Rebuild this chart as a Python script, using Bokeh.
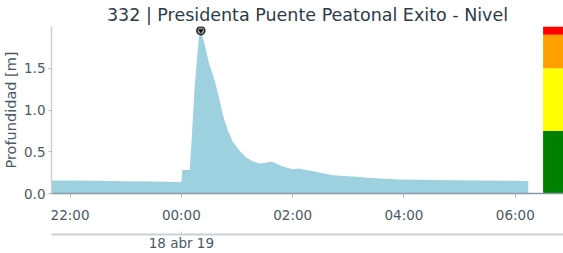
import pandas as pd
from bokeh.plotting import figure
from bokeh.models import (Range1d, FixedTicker, DatetimeTickFormatter, LinearAxis,
                          CustomJSTickFormatter)
from bokeh.embed import file_html
from bokeh.resources import INLINE

# ---- data ----
times = ["2019-04-17 21:40", "2019-04-17 22:00", "2019-04-17 22:30", "2019-04-17 23:00",
         "2019-04-17 23:30", "2019-04-17 23:55", "2019-04-18 00:00", "2019-04-18 00:01",
         "2019-04-18 00:09", "2019-04-18 00:10", "2019-04-18 00:11", "2019-04-18 00:14",
         "2019-04-18 00:17", "2019-04-18 00:19", "2019-04-18 00:21", "2019-04-18 00:25",
         "2019-04-18 00:30", "2019-04-18 00:36", "2019-04-18 00:41", "2019-04-18 00:45",
         "2019-04-18 00:50", "2019-04-18 00:55", "2019-04-18 01:03", "2019-04-18 01:10",
         "2019-04-18 01:17", "2019-04-18 01:24", "2019-04-18 01:30", "2019-04-18 01:35",
         "2019-04-18 01:40", "2019-04-18 01:45", "2019-04-18 01:50", "2019-04-18 02:00",
         "2019-04-18 02:06", "2019-04-18 02:25", "2019-04-18 02:43", "2019-04-18 03:09",
         "2019-04-18 03:20", "2019-04-18 03:55", "2019-04-18 04:57", "2019-04-18 06:14"]
nivel = [0.155, 0.155, 0.152, 0.148, 0.143, 0.137, 0.138, 0.28,
         0.28, 0.45, 0.62, 1.23, 1.63, 1.88, 1.95, 1.79,
         1.55, 1.35, 1.13, 0.93, 0.76, 0.63, 0.51, 0.43,
         0.385, 0.36, 0.365, 0.38, 0.37, 0.345, 0.32, 0.29,
         0.30, 0.26, 0.22, 0.20, 0.19, 0.167, 0.16, 0.15]

x_ticks = ["2019-04-17 22:00", "2019-04-18 00:00", "2019-04-18 02:00",
           "2019-04-18 04:00", "2019-04-18 06:00"]
date_tick = "2019-04-18 00:00"
date_label = "18 abr 19"

levels = [0.0, 0.75, 1.5, 1.9, 2.0]
level_colors = ["#008000", "#ffff00", "#ffa000", "#ff0000"]
bar_start = "2019-04-18 06:30"
x_start = "2019-04-17 21:40"
x_end = "2019-04-18 06:52"

title = "332 | Presidenta Puente Peatonal Exito - Nivel"
y_label = "Profundidad [m]"

# ---- plot ----
t = pd.to_datetime(times)
ms = lambda s: pd.Timestamp(s).value // 10**6

FONT = "DejaVu Sans"
TXT = "#4a5866"

p = figure(width=563, height=253, x_axis_type="datetime", output_backend="svg",
           toolbar_location=None, title=title,
           x_range=Range1d(ms(x_start), ms(x_end)), y_range=Range1d(0, 2.0),
           min_border_left=0, min_border_right=0, min_border_top=0, min_border_bottom=0)
p.outline_line_color = None
p.grid.visible = False
p.background_fill_color = "white"

p.title.text_font = FONT
p.title.text_font_size = "17.5px"
p.title.text_font_style = "normal"
p.title.text_color = "#2c3b4a"
p.title.align = "center"
p.title.standoff = 4

p.varea(x=t, y1=0, y2=nivel, fill_color="#9dd1e0")

p.quad(left=ms(bar_start), right=ms(x_end), bottom=levels[:-1], top=levels[1:],
       fill_color=level_colors, line_color=None)

imax = max(range(len(nivel)), key=lambda i: nivel[i])
p.scatter([t[imax]], [nivel[imax]], marker="circle", size=8, fill_color="#999999",
          line_color="#222222", line_width=1.5)
p.scatter([t[imax]], [nivel[imax]], marker="inverted_triangle", size=5,
          fill_color="#111111", line_color=None)

xa = p.xaxis[0]
xa.ticker = FixedTicker(ticks=[ms(s) for s in x_ticks])
xa.formatter = DatetimeTickFormatter(hours="%H:%M", days="%H:%M", minutes="%H:%M")
xa.minor_tick_line_color = None
xa.axis_line_color = "#8797a3"
xa.axis_line_width = 1.5
xa.major_tick_line_color = "#b0b9c0"
xa.major_tick_out = 4
xa.major_tick_in = 0
xa.major_label_text_font = FONT
xa.major_label_text_font_size = "13.5px"
xa.major_label_text_color = TXT
xa.major_label_standoff = 9
xa.axis_label = " "
xa.axis_label_text_font_size = "5px"
xa.axis_label_standoff = 0

xa2 = LinearAxis(ticker=FixedTicker(ticks=[ms(date_tick)]),
                 formatter=CustomJSTickFormatter(args=dict(lbl=date_label), code="return lbl;"))
xa2.axis_line_color = "#c9d1d7"
xa2.axis_line_width = 2
xa2.major_tick_line_color = "#c9d1d7"
xa2.major_tick_in = 3
xa2.major_tick_out = 0
xa2.minor_tick_line_color = None
xa2.major_label_text_font = FONT
xa2.major_label_text_font_size = "13.5px"
xa2.major_label_text_color = TXT
xa2.major_label_standoff = 0
p.add_layout(xa2, "below")

ya = p.yaxis[0]
ya.ticker = FixedTicker(ticks=[0.0, 0.5, 1.0, 1.5])
ya.formatter = CustomJSTickFormatter(code="return tick.toFixed(1);")
ya.minor_tick_line_color = None
ya.axis_line_color = "#c9d1d7"
ya.axis_line_width = 1.5
ya.major_tick_line_color = "#b0b9c0"
ya.major_tick_out = 3
ya.major_tick_in = 0
ya.major_label_text_font = FONT
ya.major_label_text_font_size = "13.5px"
ya.major_label_text_color = TXT
ya.major_label_standoff = 3
ya.axis_label = y_label
ya.axis_label_text_font = FONT
ya.axis_label_text_font_size = "14.5px"
ya.axis_label_text_font_style = "normal"
ya.axis_label_text_color = TXT
ya.axis_label_standoff = 2

open("out.html", "w").write(file_html(p, INLINE))
